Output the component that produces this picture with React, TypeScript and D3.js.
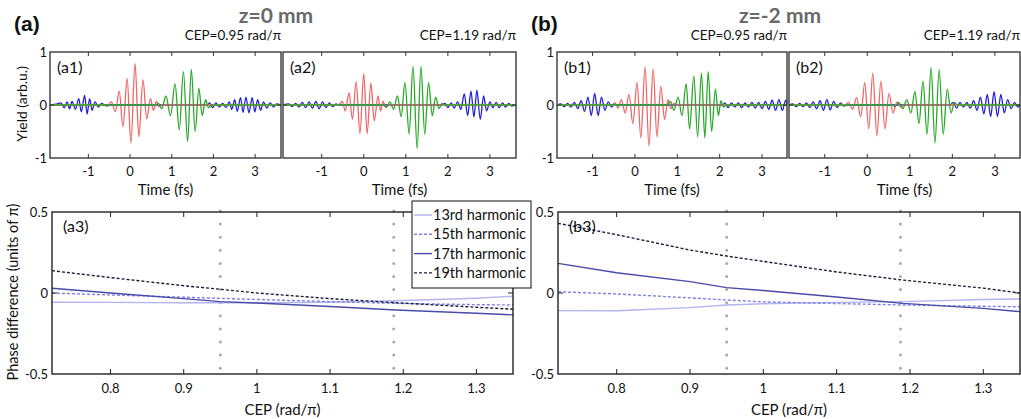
import React, { useEffect, useRef } from "react";
import * as d3 from "d3";

// ---- top panels: extrema of each burst, [time fs, yield] ----
const a1Blue = [[-1.92, 0], [-1.74, 0.02], [-1.66, 0.04], [-1.58, -0.05], [-1.51, 0.06], [-1.45, -0.07], [-1.39, 0.07], [-1.31, -0.08], [-1.23, 0.12], [-1.17, -0.13], [-1.09, 0.18], [-1.03, -0.17], [-0.97, 0.12], [-0.91, -0.1], [-0.84, 0.06], [-0.76, -0.04], [-0.68, 0.03], [-0.6, 0], [1.86, 0], [1.91, 0.04], [1.98, -0.05], [2.06, 0.04], [2.14, -0.04], [2.22, 0.03], [2.3, -0.05], [2.38, 0.06], [2.44, -0.08], [2.51, 0.1], [2.57, -0.12], [2.65, 0.14], [2.71, -0.14], [2.78, 0.15], [2.85, -0.15], [2.93, 0.14], [2.99, -0.13], [3.06, 0.1], [3.13, -0.1], [3.2, 0.06], [3.28, -0.06], [3.36, 0.04], [3.44, -0.04], [3.51, 0.02], [3.62, 0]];
const a1Red = [[-1.92, 0], [-0.62, 0], [-0.55, -0.03], [-0.45, 0.06], [-0.35, -0.12], [-0.26, 0.26], [-0.17, -0.41], [-0.07, 0.5], [0.02, -0.72], [0.12, 0.78], [0.21, -0.6], [0.31, 0.48], [0.4, -0.26], [0.49, 0.12], [0.56, -0.1], [0.63, 0.07], [0.7, -0.03], [0.78, 0], [3.62, 0]];
const a1Green = [[-1.92, 0], [0.6, 0], [0.68, 0.03], [0.76, -0.07], [0.86, 0.17], [0.97, -0.2], [1.08, 0.4], [1.18, -0.47], [1.28, 0.63], [1.38, -0.69], [1.47, 0.67], [1.56, -0.5], [1.65, 0.32], [1.73, -0.2], [1.81, 0.1], [1.88, -0.05], [1.95, 0], [3.62, 0]];

const a2Blue = [[-1.92, 0], [-1.78, 0.02], [-1.7, -0.03], [-1.62, 0.03], [-1.54, -0.04], [-1.46, 0.05], [-1.38, -0.05], [-1.3, 0.06], [-1.22, -0.06], [-1.14, 0.07], [-1.06, -0.07], [-0.98, 0.06], [-0.9, -0.05], [-0.82, 0.04], [-0.74, -0.03], [-0.66, 0.02], [-0.58, 0], [1.86, 0], [1.93, 0.03], [2.0, -0.05], [2.08, 0.04], [2.15, -0.06], [2.23, 0.06], [2.31, -0.08], [2.39, 0.21], [2.47, -0.2], [2.55, 0.26], [2.62, -0.23], [2.69, 0.28], [2.77, -0.27], [2.85, 0.17], [2.92, -0.11], [3.0, 0.06], [3.07, -0.05], [3.15, 0.05], [3.22, -0.05], [3.3, 0.04], [3.37, -0.04], [3.45, 0.03], [3.52, -0.02], [3.62, 0]];
const a2Red = [[-1.92, 0], [-0.6, 0], [-0.51, 0.07], [-0.44, -0.11], [-0.35, 0.23], [-0.27, -0.27], [-0.18, 0.44], [-0.09, -0.54], [0.0, 0.59], [0.08, -0.54], [0.17, 0.41], [0.25, -0.3], [0.34, 0.17], [0.4, -0.11], [0.46, 0.07], [0.52, -0.05], [0.58, 0], [3.62, 0]];
const a2Green = [[-1.92, 0], [0.47, 0], [0.54, -0.04], [0.62, 0.06], [0.71, -0.08], [0.8, 0.17], [0.89, -0.22], [0.98, 0.42], [1.08, -0.55], [1.17, 0.73], [1.27, -0.82], [1.36, 0.73], [1.45, -0.55], [1.54, 0.42], [1.63, -0.2], [1.71, 0.15], [1.79, -0.07], [1.86, 0.03], [1.93, 0], [3.62, 0]];

const b1Blue = [[-1.84, 0], [-1.75, 0.02], [-1.67, -0.03], [-1.59, 0.03], [-1.51, -0.04], [-1.43, 0.05], [-1.35, -0.07], [-1.27, 0.08], [-1.19, -0.12], [-1.11, 0.15], [-1.03, -0.2], [-0.95, 0.22], [-0.87, -0.2], [-0.79, 0.15], [-0.71, -0.1], [-0.63, 0.06], [-0.55, -0.04], [-0.48, 0.02], [-0.42, 0], [2.08, 0], [2.12, 0.04], [2.2, -0.05], [2.28, 0.04], [2.36, -0.04], [2.44, 0.04], [2.52, -0.05], [2.6, 0.04], [2.68, -0.04], [2.76, 0.05], [2.84, -0.06], [2.92, 0.05], [3.0, -0.07], [3.08, 0.07], [3.16, -0.08], [3.24, 0.09], [3.32, -0.1], [3.4, 0.1], [3.48, -0.1], [3.56, 0.09], [3.59, 0.02]];
const b1Red = [[-1.84, 0], [-0.55, 0], [-0.47, 0.04], [-0.4, -0.06], [-0.32, 0.1], [-0.23, -0.15], [-0.14, 0.2], [-0.05, -0.35], [0.05, 0.42], [0.14, -0.62], [0.24, 0.72], [0.33, -0.78], [0.43, 0.68], [0.52, -0.6], [0.61, 0.35], [0.7, -0.27], [0.78, 0.1], [0.85, -0.07], [0.92, 0.03], [0.98, 0], [3.59, 0]];
const b1Green = [[-1.84, 0], [0.76, 0], [0.84, 0.07], [0.92, -0.1], [1.02, 0.15], [1.11, -0.2], [1.21, 0.4], [1.29, -0.45], [1.39, 0.55], [1.48, -0.6], [1.57, 0.6], [1.65, -0.62], [1.73, 0.63], [1.81, -0.5], [1.9, 0.3], [1.97, -0.2], [2.03, 0.08], [2.09, -0.04], [2.15, 0], [3.59, 0]];

const b2Blue = [[-1.84, 0], [-1.75, 0.02], [-1.67, -0.03], [-1.59, 0.03], [-1.51, -0.03], [-1.43, 0.04], [-1.35, -0.05], [-1.27, 0.06], [-1.19, -0.07], [-1.11, 0.08], [-1.03, -0.1], [-0.95, 0.1], [-0.87, -0.09], [-0.79, 0.07], [-0.71, -0.05], [-0.63, 0.04], [-0.55, -0.02], [-0.48, 0], [1.95, 0], [2.02, 0.05], [2.1, -0.06], [2.18, 0.05], [2.26, -0.04], [2.34, 0.05], [2.42, -0.06], [2.5, 0.08], [2.58, -0.1], [2.66, 0.15], [2.74, -0.17], [2.82, 0.2], [2.9, -0.22], [2.98, 0.25], [3.06, -0.22], [3.14, 0.2], [3.22, -0.15], [3.3, 0.1], [3.38, -0.07], [3.46, 0.05], [3.54, -0.04], [3.59, 0]];
const b2Red = [[-1.84, 0], [-0.6, 0], [-0.535, -0.03], [-0.44, 0.05], [-0.345, -0.08], [-0.25, 0.14], [-0.155, -0.22], [-0.06, 0.42], [0.035, -0.45], [0.13, 0.6], [0.225, -0.58], [0.32, 0.45], [0.415, -0.45], [0.51, 0.22], [0.605, -0.15], [0.7, 0.06], [0.79, -0.04], [0.86, 0], [3.59, 0]];
const b2Green = [[-1.84, 0], [0.58, 0], [0.65, -0.03], [0.74, 0.05], [0.835, -0.07], [0.93, 0.1], [1.025, -0.15], [1.12, 0.25], [1.215, -0.35], [1.31, 0.45], [1.405, -0.55], [1.5, 0.71], [1.59, -0.72], [1.69, 0.66], [1.785, -0.55], [1.88, 0.3], [1.97, -0.15], [2.05, 0.05], [2.12, 0], [3.59, 0]];

const timeTicks = [-1, 0, 1, 2, 3];

// ---- bottom panels: phase difference vs CEP ----
const cep = [0.72, 0.8, 0.9, 0.95, 1.0, 1.1, 1.19, 1.3, 1.35];
const a3H13 = [-0.057, -0.058, -0.06, -0.06, -0.06, -0.057, -0.048, -0.032, -0.02];
const a3H15 = [0.0, -0.012, -0.026, -0.033, -0.04, -0.053, -0.064, -0.072, -0.074];
const a3H17 = [0.029, 0.0, -0.035, -0.053, -0.062, -0.083, -0.105, -0.125, -0.135];
const a3H19 = [0.138, 0.095, 0.045, 0.023, 0.0, -0.035, -0.06, -0.088, -0.1];
const b3H13 = [-0.109, -0.11, -0.09, -0.074, -0.066, -0.058, -0.053, -0.04, -0.037];
const b3H15 = [0.008, -0.006, -0.03, -0.043, -0.055, -0.065, -0.074, -0.082, -0.085];
const b3H17 = [0.183, 0.125, 0.07, 0.033, 0.015, -0.025, -0.064, -0.095, -0.115];
const b3H19 = [0.43, 0.36, 0.265, 0.228, 0.195, 0.13, 0.08, 0.03, 0.0];
const cepTicks = [0.8, 0.9, 1, 1.1, 1.2, 1.3];
const cepMarks = [0.95, 1.187];

const harmonics = ["13rd harmonic", "15th harmonic", "17th harmonic", "19th harmonic"];
const harmColors = ["#b4b4f0", "#7f7fe6", "#4a4aa8", "#1c1c3a"];
const harmDash = [null, "3,2", null, "3,2"];

const FONT = "Lato, 'Open Sans', sans-serif";
const BLUE = "#1f1fd6";
const RED = "#f06565";
const GREEN = "#28a828";

const App = () => {
  const svgRef = useRef(null);

  useEffect(() => {
    const svg = d3.select(svgRef.current);
    svg.selectAll("*").remove();

    const text = (x, y, s, size, anchor = "start", extra = {}) => {
      const t = svg.append("text").attr("x", x).attr("y", y).attr("text-anchor", anchor)
        .style("font-family", FONT).style("font-size", `${size}px`).style("fill", "#111").text(s);
      Object.entries(extra).forEach(([k, v]) => t.style(k, v));
      return t;
    };

    // --- waveform panels ---
    const wavePanel = (left, right, domain, label, cepText, blue, red, green, showY) => {
      const top = 52, bottom = 158;
      const x = d3.scaleLinear().domain(domain).range([left, right]);
      const y = d3.scaleLinear().domain([-1, 1]).range([bottom, top]);
      const line = d3.line().x((d) => x(d[0])).y((d) => y(d[1])).curve(d3.curveMonotoneX);
      [[blue, BLUE], [red, RED], [green, GREEN]].forEach(([data, c]) => {
        svg.append("path").attr("d", line(data)).attr("fill", "none")
          .attr("stroke", c).attr("stroke-width", 1.3);
      });
      svg.append("rect").attr("x", left).attr("y", top).attr("width", right - left)
        .attr("height", bottom - top).attr("fill", "none").attr("stroke", "#3a3a3a").attr("stroke-width", 1.4);
      timeTicks.forEach((t) => {
        svg.append("line").attr("x1", x(t)).attr("x2", x(t)).attr("y1", bottom).attr("y2", bottom - 4)
          .attr("stroke", "#333").attr("stroke-width", 1);
        svg.append("line").attr("x1", x(t)).attr("x2", x(t)).attr("y1", top).attr("y2", top + 4)
          .attr("stroke", "#333").attr("stroke-width", 1);
        text(x(t), 176, `${t}`, 13, "middle");
      });
      svg.append("line").attr("x1", left).attr("x2", left + 4).attr("y1", y(0)).attr("y2", y(0)).attr("stroke", "#333");
      svg.append("line").attr("x1", right).attr("x2", right - 4).attr("y1", y(0)).attr("y2", y(0)).attr("stroke", "#333");
      if (showY) {
        [1, 0, -1].forEach((v) => text(left - 3, y(v) + 4.5, `${v}`, 13, "end"));
      }
      text((left + right) / 2, 195, "Time (fs)", 15, "middle");
      text(left + 7, 73, label, 16);
      text(right, 40, cepText, 13.5, "end");
    };

    wavePanel(50, 281, [-1.92, 3.62], "(a1)", "CEP=0.95 rad/\u03c0", a1Blue, a1Red, a1Green, true);
    wavePanel(283, 516, [-1.92, 3.62], "(a2)", "CEP=1.19 rad/\u03c0", a2Blue, a2Red, a2Green, false);
    wavePanel(557, 787, [-1.84, 3.59], "(b1)", "CEP=0.95 rad/\u03c0", b1Blue, b1Red, b1Green, true);
    wavePanel(789, 1020, [-1.84, 3.59], "(b2)", "CEP=1.19 rad/\u03c0", b2Blue, b2Red, b2Green, false);

    text(27, 104, "Yield (arb.u.)", 14, "middle").attr("transform", "rotate(-90, 27, 104)");

    // --- phase difference panels ---
    const phasePanel = (left, right, label, series) => {
      const top = 212, bottom = 374;
      const x = d3.scaleLinear().domain([0.72, 1.35]).range([left, right]);
      const y = d3.scaleLinear().domain([-0.5, 0.5]).range([bottom, top]);
      cepMarks.forEach((c) => {
        svg.append("line").attr("x1", x(c)).attr("x2", x(c)).attr("y1", top - 1).attr("y2", bottom)
          .attr("stroke", "#aaaaaa").attr("stroke-width", 3).attr("stroke-linecap", "round")
          .attr("stroke-dasharray", "0,13.1");
      });
      const line = d3.line().x((d) => x(d[0])).y((d) => y(d[1]));
      series.forEach((vals, i) => {
        svg.append("path").attr("d", line(cep.map((c, j) => [c, vals[j]]))).attr("fill", "none")
          .attr("stroke", harmColors[i]).attr("stroke-width", 1.4)
          .attr("stroke-dasharray", harmDash[i]);
      });
      svg.append("rect").attr("x", left).attr("y", top).attr("width", right - left)
        .attr("height", bottom - top).attr("fill", "none").attr("stroke", "#222").attr("stroke-width", 1.4);
      cepTicks.forEach((t) => {
        svg.append("line").attr("x1", x(t)).attr("x2", x(t)).attr("y1", bottom).attr("y2", bottom - 5).attr("stroke", "#222");
        svg.append("line").attr("x1", x(t)).attr("x2", x(t)).attr("y1", top).attr("y2", top + 5).attr("stroke", "#222");
        text(x(t), 393, d3.format("")(t), 13, "middle");
      });
      svg.append("line").attr("x1", left).attr("x2", left + 5).attr("y1", y(0)).attr("y2", y(0)).attr("stroke", "#222");
      svg.append("line").attr("x1", right).attr("x2", right - 5).attr("y1", y(0)).attr("y2", y(0)).attr("stroke", "#222");
      [0.5, 0, -0.5].forEach((v) => text(left - 4, y(v) + 4.5, `${v}`, 13, "end"));
      text(left + 11, 232, label, 16);
      text((left + right) / 2, 415, "CEP (rad/\u03c0)", 15, "middle");
    };

    phasePanel(52, 513, "(a3)", [a3H13, a3H15, a3H17, a3H19]);
    phasePanel(558, 1020, "(b3)", [b3H13, b3H15, b3H17, b3H19]);

    text(18, 292, "Phase difference (units of \u03c0)", 14.5, "middle").attr("transform", "rotate(-90, 18, 292)");

    // --- legend ---
    const lg = svg.append("g");
    lg.append("rect").attr("x", 412).attr("y", 201).attr("width", 119).attr("height", 87)
      .attr("fill", "#fff").attr("stroke", "#111").attr("stroke-width", 1);
    harmonics.forEach((h, i) => {
      const yy = 215 + i * 19.3;
      lg.append("line").attr("x1", 414).attr("x2", 432).attr("y1", yy).attr("y2", yy)
        .attr("stroke", harmColors[i]).attr("stroke-width", 1.4).attr("stroke-dasharray", harmDash[i]);
      text(433, yy + 5, h, 14.5);
    });

    // --- headings ---
    text(14, 31, "(a)", 21, "start", { "font-weight": "bold", "font-family": "'Liberation Sans', Arial, sans-serif" });
    text(531, 31, "(b)", 21, "start", { "font-weight": "bold", "font-family": "'Liberation Sans', Arial, sans-serif" });
    text(276, 23, "z=0 mm", 21, "middle", { "font-weight": "bold", fill: "#6a6a6a" });
    text(780, 23, "z=-2 mm", 21, "middle", { "font-weight": "bold", fill: "#6a6a6a" });
  }, []);

  return (
    <svg
      ref={svgRef}
      width={1021}
      height={419}
      style={{ position: "absolute", left: 0, top: 0, background: "#fff" }}
    />
  );
};

export default App;
